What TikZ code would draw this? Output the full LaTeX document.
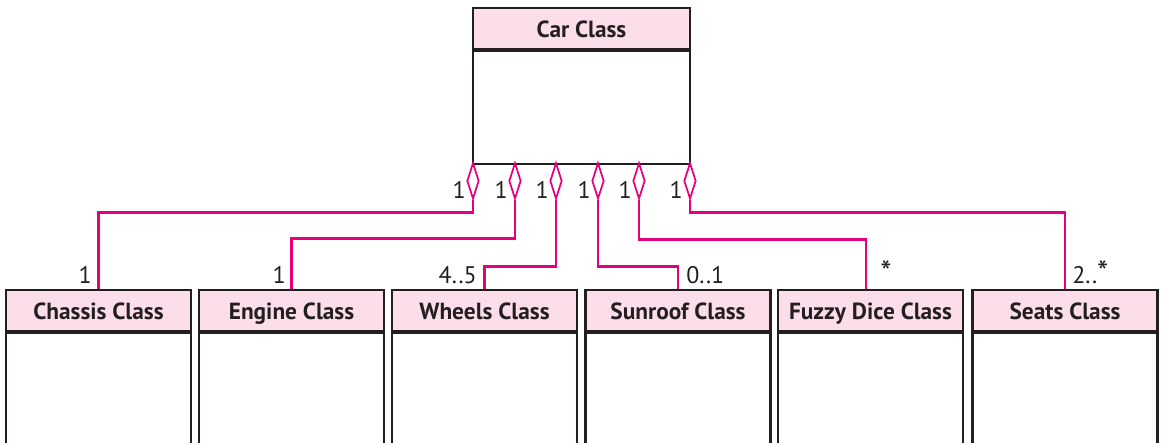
\documentclass[tikz,border=0pt]{standalone}
\usepackage{fontspec}
\setmainfont{PT Sans}
\usetikzlibrary{shapes.geometric}
\definecolor{linkpink}{HTML}{E5007D}
\definecolor{headpink}{HTML}{FCDEEB}
\definecolor{inkdark}{HTML}{231F20}
\tikzset{
  hdr/.style={draw=inkdark, line width=1.7pt, fill=headpink, minimum width=138.75pt, minimum height=30.75pt, inner sep=0pt, text height=13.5pt, text depth=0.5pt, text=inkdark, font=\bfseries\fontsize{17.5}{18}\selectfont},
  bodybox/.style={draw=inkdark, line width=1.7pt, fill=white, minimum width=138.75pt, minimum height=96pt, inner sep=0pt, anchor=north},
  agg/.style={diamond, draw=linkpink, line width=1.3pt, fill=white, minimum width=9pt, minimum height=27pt, inner sep=0pt, anchor=north},
  link/.style={draw=linkpink, line width=2.2pt},
  mult/.style={text=inkdark, font=\fontsize{18}{20}\selectfont, inner sep=0pt}
}
\begin{document}
\begin{tikzpicture}[x=0.75pt,y=-0.75pt]
\useasboundingbox (0,0) rectangle (1162,442);
\clip (0,0) rectangle (1162,442);
% Car class
\node[hdr, minimum width=162.75pt] (car) at (581.5,28.5) {Car Class};
\node[bodybox, minimum width=162.75pt, minimum height=84.75pt] (carbody) at (car.south) {};
% part classes
\node[hdr] (chassis) at (98.5,310.5) {Chassis Class};
\node[bodybox] (chassisb) at (chassis.south) {};
\node[hdr] (engine) at (291.5,310.5) {Engine Class};
\node[bodybox] (engineb) at (engine.south) {};
\node[hdr] (wheels) at (484.5,310.5) {Wheels Class};
\node[bodybox] (wheelsb) at (wheels.south) {};
\node[hdr] (sunroof) at (678,310.5) {Sunroof Class};
\node[bodybox] (sunroofb) at (sunroof.south) {};
\node[hdr] (fuzzy) at (870.5,310.5) {Fuzzy Dice Class};
\node[bodybox] (fuzzyb) at (fuzzy.south) {};
\node[hdr] (seats) at (1065,310.5) {Seats Class};
\node[bodybox] (seatsb) at (seats.south) {};
% diamonds
\node[agg] (d1) at (473,162) {};
\node[agg] (d2) at (515,162) {};
\node[agg] (d3) at (556,162) {};
\node[agg] (d4) at (598,162) {};
\node[agg] (d5) at (639,162) {};
\node[agg] (d6) at (690,162) {};
% connectors
\coordinate (f1) at (866,0);
\draw[link] (d1.south) -- ++(0,13) -| (chassis.north);
\draw[link] (d2.south) -- ++(0,39) -| (engine.north);
\draw[link] (d3.south) -- ++(0,67) -| (wheels.north);
\draw[link] (d4.south) -- ++(0,67) -| (sunroof.north);
\draw[link] (d5.south) -- ++(0,40) -| (fuzzy.north -| f1);
\draw[link] (d6.south) -- ++(0,13) -| (seats.north);
% multiplicities at car
\node[mult, anchor=base east] (m1) at (466,198) {1};
\node[mult, anchor=base east] (m2) at (508,198) {1};
\node[mult, anchor=base east] (m3) at (549,198) {1};
\node[mult, anchor=base east] (m4) at (591,198) {1};
\node[mult, anchor=base east] (m5) at (632,198) {1};
\node[mult, anchor=base east] (m6) at (683,198) {1};
% multiplicities at parts
\node[mult, anchor=base east] (n1) at (92,283) {1};
\node[mult, anchor=base east] (n2) at (286,283) {1};
\node[mult, anchor=base east] (n3) at (477,283) {4..5};
\node[mult, anchor=base west] (n4) at (686,283) {0..1};
\node[mult, anchor=base west] (n5) at (880,283) {\fontsize{24}{24}\selectfont *};
\node[mult, anchor=base west] (n6) at (1072,283) {2..{\fontsize{24}{24}\selectfont *}};
\end{tikzpicture}
\end{document}
